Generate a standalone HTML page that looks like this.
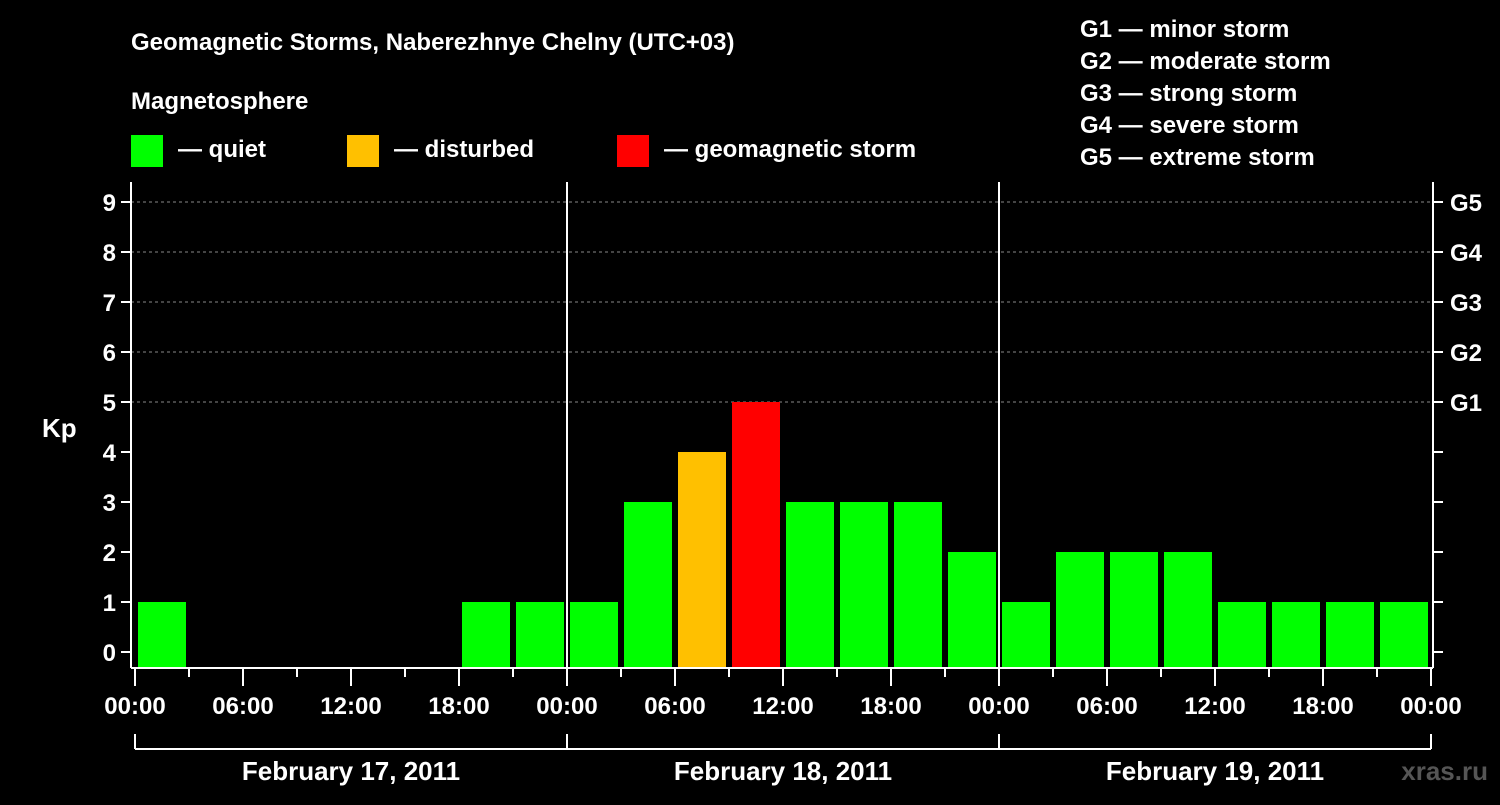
<!DOCTYPE html>
<html><head><meta charset="utf-8"><style>
body{margin:0;background:#000;width:1500px;height:800px;overflow:hidden}
svg{font-family:"Liberation Sans",sans-serif;font-weight:bold}
</style></head><body>
<svg id="c" width="1500" height="800">
<text x="131" y="50" fill="#fff" font-size="24">Geomagnetic Storms, Naberezhnye Chelny (UTC+03)</text>
<text x="131" y="109" fill="#fff" font-size="24">Magnetosphere</text>
<g><rect x="131" y="135" width="32" height="32" fill="#00ff00"/><text x="178" y="157" fill="#fff" font-size="24">— quiet</text></g>
<g><rect x="347" y="135" width="32" height="32" fill="#ffc000"/><text x="394" y="157" fill="#fff" font-size="24">— disturbed</text></g>
<g><rect x="617" y="135" width="32" height="32" fill="#ff0000"/><text x="664" y="157" fill="#fff" font-size="24">— geomagnetic storm</text></g>
<g fill="#fff" font-size="24">
<text x="1080" y="37">G1 — minor storm</text><text x="1080" y="69">G2 — moderate storm</text><text x="1080" y="101">G3 — strong storm</text><text x="1080" y="133">G4 — severe storm</text><text x="1080" y="165">G5 — extreme storm</text></g>
<text x="42" y="437" fill="#fff" font-size="26">Kp</text>
<text x="1488" y="780" fill="#555" font-size="26" text-anchor="end">xras.ru</text>
<g id="grid"></g><g id="bars"></g><g id="axes"></g>
</svg>
<script>
const kpValues=[1,0,0,0,0,0,1,1, 1,3,4,5,3,3,3,2, 1,2,2,2,1,1,1,1];
const dayLabels=["February 17, 2011","February 18, 2011","February 19, 2011"];
const hourLabels=["00:00","06:00","12:00","18:00"];
const gLabels=["G1","G2","G3","G4","G5"];
const NS="http://www.w3.org/2000/svg";
const X0=135,PX_SLOT=54,L=131,R=1433,T=182,B=668;
const xs=i=>X0+i*PX_SLOT;
const ys=v=>652-v*50;
function mk(p,t,a){const e=document.createElementNS(NS,t);for(const k in a)e.setAttribute(k,a[k]);p.appendChild(e);return e;}
const grid=document.getElementById('grid'),bars=document.getElementById('bars'),axes=document.getElementById('axes');
for(let v=5;v<=9;v++){const l=mk(grid,'line',{x1:L,x2:R,y1:ys(v),y2:ys(v),stroke:'#888','stroke-dasharray':'3,3','stroke-width':1});

}
kpValues.forEach((v,i)=>{if(v<=0)return;
const c=v>=5?'#ff0000':v>=4?'#ffc000':'#00ff00';
const r=mk(bars,'rect',{x:xs(i)+3,y:ys(v),width:48,height:B-ys(v),fill:c});

});
const st={stroke:'#fff','stroke-width':2};
mk(axes,'line',{x1:L,x2:L,y1:T,y2:B,...st});
mk(axes,'line',{x1:R,x2:R,y1:T,y2:B,...st});
mk(axes,'line',{x1:L,x2:R,y1:B,y2:B,...st});
for(let v=0;v<=9;v++){
mk(axes,'line',{x1:L-10,x2:L,y1:ys(v),y2:ys(v),...st});
mk(axes,'line',{x1:R,x2:R+10,y1:ys(v),y2:ys(v),...st});
const t=mk(axes,'text',{x:116,y:ys(v)+9,fill:'#fff','font-size':24,'text-anchor':'end'});t.textContent=v;

}
gLabels.forEach((g,i)=>{const t=mk(axes,'text',{x:1450,y:ys(5+i)+9,fill:'#fff','font-size':24});t.textContent=g;

});
for(let i=0;i<=kpValues.length;i++){const x=xs(i);
mk(axes,'line',{x1:x,x2:x,y1:B,y2:i%2?677:686,...st});
if(i%8===0&&i>0&&i<kpValues.length)mk(axes,'line',{x1:x,x2:x,y1:T,y2:B,...st});
if(i%2===0){const t=mk(axes,'text',{x:x,y:714,fill:'#fff','font-size':24,'text-anchor':'middle'});t.textContent=hourLabels[(i/2)%4];

}
if(i%8===0)mk(axes,'line',{x1:x,x2:x,y1:734,y2:749,...st});}
mk(axes,'line',{x1:xs(0),x2:xs(kpValues.length),y1:749,y2:749,...st});
dayLabels.forEach((d,i)=>{const t=mk(axes,'text',{x:xs(i*8+4),y:780,fill:'#fff','font-size':26,'text-anchor':'middle'});t.textContent=d;

});
</script>
</body></html>
